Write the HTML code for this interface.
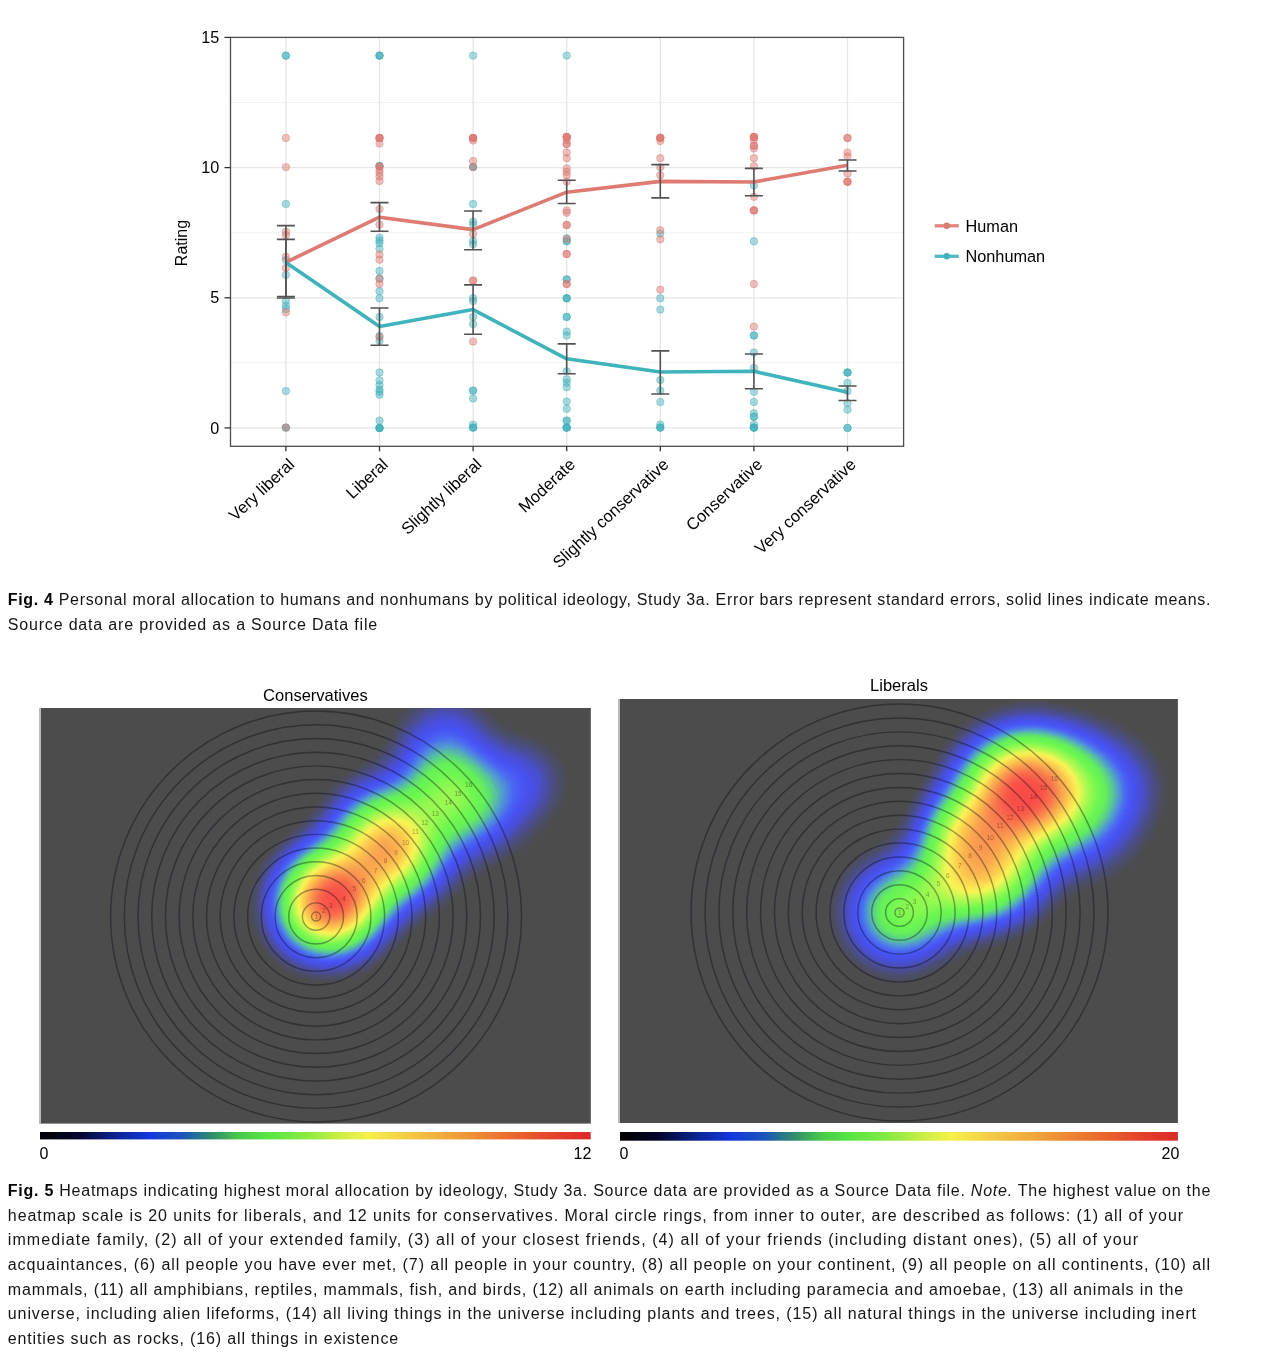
<!DOCTYPE html>
<html><head><meta charset="utf-8"><title>Figures</title>
<style>
html,body{margin:0;padding:0;background:#fff}
body{width:1278px;height:1368px;position:relative;overflow:hidden;font-family:"Liberation Sans",sans-serif;color:#111}
.cl{position:absolute;left:7.8px;font-size:16px;line-height:20px;white-space:nowrap;color:#141414}
.cl b{color:#000}
.t{position:absolute;font-size:16.5px;line-height:20px;color:#000;white-space:nowrap;transform:translateX(-50%)}
.n{position:absolute;font-size:16px;line-height:20px;color:#000}
.strip{position:absolute;background:#b9b9b9}
</style></head><body>
<svg id="chart" width="1278" height="580" viewBox="0 0 1278 580" style="position:absolute;left:0;top:0" font-family="Liberation Sans, sans-serif">
<g stroke="#f1f1f1" stroke-width="1.1">
<line x1="230.5" x2="903.6" y1="362.8" y2="362.8"/>
<line x1="230.5" x2="903.6" y1="232.7" y2="232.7"/>
<line x1="230.5" x2="903.6" y1="102.5" y2="102.5"/>
</g><g stroke="#e6e6e6" stroke-width="1.3">
<line x1="230.5" x2="903.6" y1="427.9" y2="427.9"/>
<line x1="230.5" x2="903.6" y1="297.8" y2="297.8"/>
<line x1="230.5" x2="903.6" y1="167.6" y2="167.6"/>
<line x1="285.9" x2="285.9" y1="37.4" y2="446.3"/>
<line x1="379.5" x2="379.5" y1="37.4" y2="446.3"/>
<line x1="473.1" x2="473.1" y1="37.4" y2="446.3"/>
<line x1="566.7" x2="566.7" y1="37.4" y2="446.3"/>
<line x1="660.3" x2="660.3" y1="37.4" y2="446.3"/>
<line x1="753.9" x2="753.9" y1="37.4" y2="446.3"/>
<line x1="847.5" x2="847.5" y1="37.4" y2="446.3"/>
</g>
<g stroke-width="0.8">
<circle cx="285.9" cy="55.6" r="3.7" fill="#3fb2bb" fill-opacity="0.45" stroke="#3fb2bb" stroke-opacity="0.6"/>
<circle cx="285.9" cy="55.6" r="3.7" fill="#3fb2bb" fill-opacity="0.45" stroke="#3fb2bb" stroke-opacity="0.6"/>
<circle cx="285.9" cy="203.9" r="3.7" fill="#3fb2bb" fill-opacity="0.45" stroke="#3fb2bb" stroke-opacity="0.6"/>
<circle cx="285.9" cy="260.0" r="3.7" fill="#3fb2bb" fill-opacity="0.45" stroke="#3fb2bb" stroke-opacity="0.6"/>
<circle cx="285.9" cy="275.0" r="3.7" fill="#3fb2bb" fill-opacity="0.45" stroke="#3fb2bb" stroke-opacity="0.6"/>
<circle cx="285.9" cy="301.0" r="3.7" fill="#3fb2bb" fill-opacity="0.45" stroke="#3fb2bb" stroke-opacity="0.6"/>
<circle cx="285.9" cy="305.5" r="3.7" fill="#3fb2bb" fill-opacity="0.45" stroke="#3fb2bb" stroke-opacity="0.6"/>
<circle cx="285.9" cy="309.0" r="3.7" fill="#3fb2bb" fill-opacity="0.45" stroke="#3fb2bb" stroke-opacity="0.6"/>
<circle cx="285.9" cy="391.0" r="3.7" fill="#3fb2bb" fill-opacity="0.45" stroke="#3fb2bb" stroke-opacity="0.6"/>
<circle cx="285.9" cy="427.6" r="3.7" fill="#3fb2bb" fill-opacity="0.45" stroke="#3fb2bb" stroke-opacity="0.6"/>
<circle cx="285.9" cy="427.6" r="3.7" fill="#3fb2bb" fill-opacity="0.45" stroke="#3fb2bb" stroke-opacity="0.6"/>
<circle cx="285.9" cy="138.0" r="3.7" fill="#e0766f" fill-opacity="0.45" stroke="#e0766f" stroke-opacity="0.6"/>
<circle cx="285.9" cy="167.1" r="3.7" fill="#e0766f" fill-opacity="0.45" stroke="#e0766f" stroke-opacity="0.6"/>
<circle cx="285.9" cy="231.8" r="3.7" fill="#e0766f" fill-opacity="0.45" stroke="#e0766f" stroke-opacity="0.6"/>
<circle cx="285.9" cy="235.0" r="3.7" fill="#e0766f" fill-opacity="0.45" stroke="#e0766f" stroke-opacity="0.6"/>
<circle cx="285.9" cy="256.7" r="3.7" fill="#e0766f" fill-opacity="0.45" stroke="#e0766f" stroke-opacity="0.6"/>
<circle cx="285.9" cy="268.0" r="3.7" fill="#e0766f" fill-opacity="0.45" stroke="#e0766f" stroke-opacity="0.6"/>
<circle cx="285.9" cy="312.3" r="3.7" fill="#e0766f" fill-opacity="0.45" stroke="#e0766f" stroke-opacity="0.6"/>
<circle cx="285.9" cy="427.6" r="3.7" fill="#e0766f" fill-opacity="0.45" stroke="#e0766f" stroke-opacity="0.6"/>
<circle cx="379.5" cy="55.6" r="3.7" fill="#3fb2bb" fill-opacity="0.45" stroke="#3fb2bb" stroke-opacity="0.6"/>
<circle cx="379.5" cy="55.6" r="3.7" fill="#3fb2bb" fill-opacity="0.45" stroke="#3fb2bb" stroke-opacity="0.6"/>
<circle cx="379.5" cy="55.6" r="3.7" fill="#3fb2bb" fill-opacity="0.45" stroke="#3fb2bb" stroke-opacity="0.6"/>
<circle cx="379.5" cy="166.0" r="3.7" fill="#3fb2bb" fill-opacity="0.45" stroke="#3fb2bb" stroke-opacity="0.6"/>
<circle cx="379.5" cy="166.0" r="3.7" fill="#3fb2bb" fill-opacity="0.45" stroke="#3fb2bb" stroke-opacity="0.6"/>
<circle cx="379.5" cy="237.6" r="3.7" fill="#3fb2bb" fill-opacity="0.45" stroke="#3fb2bb" stroke-opacity="0.6"/>
<circle cx="379.5" cy="240.4" r="3.7" fill="#3fb2bb" fill-opacity="0.45" stroke="#3fb2bb" stroke-opacity="0.6"/>
<circle cx="379.5" cy="243.0" r="3.7" fill="#3fb2bb" fill-opacity="0.45" stroke="#3fb2bb" stroke-opacity="0.6"/>
<circle cx="379.5" cy="248.8" r="3.7" fill="#3fb2bb" fill-opacity="0.45" stroke="#3fb2bb" stroke-opacity="0.6"/>
<circle cx="379.5" cy="271.0" r="3.7" fill="#3fb2bb" fill-opacity="0.45" stroke="#3fb2bb" stroke-opacity="0.6"/>
<circle cx="379.5" cy="278.3" r="3.7" fill="#3fb2bb" fill-opacity="0.45" stroke="#3fb2bb" stroke-opacity="0.6"/>
<circle cx="379.5" cy="291.2" r="3.7" fill="#3fb2bb" fill-opacity="0.45" stroke="#3fb2bb" stroke-opacity="0.6"/>
<circle cx="379.5" cy="298.3" r="3.7" fill="#3fb2bb" fill-opacity="0.45" stroke="#3fb2bb" stroke-opacity="0.6"/>
<circle cx="379.5" cy="316.9" r="3.7" fill="#3fb2bb" fill-opacity="0.45" stroke="#3fb2bb" stroke-opacity="0.6"/>
<circle cx="379.5" cy="336.0" r="3.7" fill="#3fb2bb" fill-opacity="0.45" stroke="#3fb2bb" stroke-opacity="0.6"/>
<circle cx="379.5" cy="340.7" r="3.7" fill="#3fb2bb" fill-opacity="0.45" stroke="#3fb2bb" stroke-opacity="0.6"/>
<circle cx="379.5" cy="372.5" r="3.7" fill="#3fb2bb" fill-opacity="0.45" stroke="#3fb2bb" stroke-opacity="0.6"/>
<circle cx="379.5" cy="380.4" r="3.7" fill="#3fb2bb" fill-opacity="0.45" stroke="#3fb2bb" stroke-opacity="0.6"/>
<circle cx="379.5" cy="385.0" r="3.7" fill="#3fb2bb" fill-opacity="0.45" stroke="#3fb2bb" stroke-opacity="0.6"/>
<circle cx="379.5" cy="389.5" r="3.7" fill="#3fb2bb" fill-opacity="0.45" stroke="#3fb2bb" stroke-opacity="0.6"/>
<circle cx="379.5" cy="391.8" r="3.7" fill="#3fb2bb" fill-opacity="0.45" stroke="#3fb2bb" stroke-opacity="0.6"/>
<circle cx="379.5" cy="394.7" r="3.7" fill="#3fb2bb" fill-opacity="0.45" stroke="#3fb2bb" stroke-opacity="0.6"/>
<circle cx="379.5" cy="420.6" r="3.7" fill="#3fb2bb" fill-opacity="0.45" stroke="#3fb2bb" stroke-opacity="0.6"/>
<circle cx="379.5" cy="428.0" r="3.7" fill="#3fb2bb" fill-opacity="0.45" stroke="#3fb2bb" stroke-opacity="0.6"/>
<circle cx="379.5" cy="428.0" r="3.7" fill="#3fb2bb" fill-opacity="0.45" stroke="#3fb2bb" stroke-opacity="0.6"/>
<circle cx="379.5" cy="428.0" r="3.7" fill="#3fb2bb" fill-opacity="0.45" stroke="#3fb2bb" stroke-opacity="0.6"/>
<circle cx="379.5" cy="428.0" r="3.7" fill="#3fb2bb" fill-opacity="0.45" stroke="#3fb2bb" stroke-opacity="0.6"/>
<circle cx="379.5" cy="138.0" r="3.7" fill="#e0766f" fill-opacity="0.45" stroke="#e0766f" stroke-opacity="0.6"/>
<circle cx="379.5" cy="138.0" r="3.7" fill="#e0766f" fill-opacity="0.45" stroke="#e0766f" stroke-opacity="0.6"/>
<circle cx="379.5" cy="138.0" r="3.7" fill="#e0766f" fill-opacity="0.45" stroke="#e0766f" stroke-opacity="0.6"/>
<circle cx="379.5" cy="138.0" r="3.7" fill="#e0766f" fill-opacity="0.45" stroke="#e0766f" stroke-opacity="0.6"/>
<circle cx="379.5" cy="143.5" r="3.7" fill="#e0766f" fill-opacity="0.45" stroke="#e0766f" stroke-opacity="0.6"/>
<circle cx="379.5" cy="166.5" r="3.7" fill="#e0766f" fill-opacity="0.45" stroke="#e0766f" stroke-opacity="0.6"/>
<circle cx="379.5" cy="166.5" r="3.7" fill="#e0766f" fill-opacity="0.45" stroke="#e0766f" stroke-opacity="0.6"/>
<circle cx="379.5" cy="170.0" r="3.7" fill="#e0766f" fill-opacity="0.45" stroke="#e0766f" stroke-opacity="0.6"/>
<circle cx="379.5" cy="173.0" r="3.7" fill="#e0766f" fill-opacity="0.45" stroke="#e0766f" stroke-opacity="0.6"/>
<circle cx="379.5" cy="176.4" r="3.7" fill="#e0766f" fill-opacity="0.45" stroke="#e0766f" stroke-opacity="0.6"/>
<circle cx="379.5" cy="181.0" r="3.7" fill="#e0766f" fill-opacity="0.45" stroke="#e0766f" stroke-opacity="0.6"/>
<circle cx="379.5" cy="209.0" r="3.7" fill="#e0766f" fill-opacity="0.45" stroke="#e0766f" stroke-opacity="0.6"/>
<circle cx="379.5" cy="224.5" r="3.7" fill="#e0766f" fill-opacity="0.45" stroke="#e0766f" stroke-opacity="0.6"/>
<circle cx="379.5" cy="254.5" r="3.7" fill="#e0766f" fill-opacity="0.45" stroke="#e0766f" stroke-opacity="0.6"/>
<circle cx="379.5" cy="259.7" r="3.7" fill="#e0766f" fill-opacity="0.45" stroke="#e0766f" stroke-opacity="0.6"/>
<circle cx="379.5" cy="278.8" r="3.7" fill="#e0766f" fill-opacity="0.45" stroke="#e0766f" stroke-opacity="0.6"/>
<circle cx="379.5" cy="284.0" r="3.7" fill="#e0766f" fill-opacity="0.45" stroke="#e0766f" stroke-opacity="0.6"/>
<circle cx="379.5" cy="337.0" r="3.7" fill="#e0766f" fill-opacity="0.45" stroke="#e0766f" stroke-opacity="0.6"/>
<circle cx="473.1" cy="55.6" r="3.7" fill="#3fb2bb" fill-opacity="0.45" stroke="#3fb2bb" stroke-opacity="0.6"/>
<circle cx="473.1" cy="167.0" r="3.7" fill="#3fb2bb" fill-opacity="0.45" stroke="#3fb2bb" stroke-opacity="0.6"/>
<circle cx="473.1" cy="167.0" r="3.7" fill="#3fb2bb" fill-opacity="0.45" stroke="#3fb2bb" stroke-opacity="0.6"/>
<circle cx="473.1" cy="203.9" r="3.7" fill="#3fb2bb" fill-opacity="0.45" stroke="#3fb2bb" stroke-opacity="0.6"/>
<circle cx="473.1" cy="221.6" r="3.7" fill="#3fb2bb" fill-opacity="0.45" stroke="#3fb2bb" stroke-opacity="0.6"/>
<circle cx="473.1" cy="224.5" r="3.7" fill="#3fb2bb" fill-opacity="0.45" stroke="#3fb2bb" stroke-opacity="0.6"/>
<circle cx="473.1" cy="240.8" r="3.7" fill="#3fb2bb" fill-opacity="0.45" stroke="#3fb2bb" stroke-opacity="0.6"/>
<circle cx="473.1" cy="244.2" r="3.7" fill="#3fb2bb" fill-opacity="0.45" stroke="#3fb2bb" stroke-opacity="0.6"/>
<circle cx="473.1" cy="298.0" r="3.7" fill="#3fb2bb" fill-opacity="0.45" stroke="#3fb2bb" stroke-opacity="0.6"/>
<circle cx="473.1" cy="301.0" r="3.7" fill="#3fb2bb" fill-opacity="0.45" stroke="#3fb2bb" stroke-opacity="0.6"/>
<circle cx="473.1" cy="316.9" r="3.7" fill="#3fb2bb" fill-opacity="0.45" stroke="#3fb2bb" stroke-opacity="0.6"/>
<circle cx="473.1" cy="324.0" r="3.7" fill="#3fb2bb" fill-opacity="0.45" stroke="#3fb2bb" stroke-opacity="0.6"/>
<circle cx="473.1" cy="390.6" r="3.7" fill="#3fb2bb" fill-opacity="0.45" stroke="#3fb2bb" stroke-opacity="0.6"/>
<circle cx="473.1" cy="390.6" r="3.7" fill="#3fb2bb" fill-opacity="0.45" stroke="#3fb2bb" stroke-opacity="0.6"/>
<circle cx="473.1" cy="398.5" r="3.7" fill="#3fb2bb" fill-opacity="0.45" stroke="#3fb2bb" stroke-opacity="0.6"/>
<circle cx="473.1" cy="424.6" r="3.7" fill="#3fb2bb" fill-opacity="0.45" stroke="#3fb2bb" stroke-opacity="0.6"/>
<circle cx="473.1" cy="427.6" r="3.7" fill="#3fb2bb" fill-opacity="0.45" stroke="#3fb2bb" stroke-opacity="0.6"/>
<circle cx="473.1" cy="427.6" r="3.7" fill="#3fb2bb" fill-opacity="0.45" stroke="#3fb2bb" stroke-opacity="0.6"/>
<circle cx="473.1" cy="427.6" r="3.7" fill="#3fb2bb" fill-opacity="0.45" stroke="#3fb2bb" stroke-opacity="0.6"/>
<circle cx="473.1" cy="138.0" r="3.7" fill="#e0766f" fill-opacity="0.45" stroke="#e0766f" stroke-opacity="0.6"/>
<circle cx="473.1" cy="138.0" r="3.7" fill="#e0766f" fill-opacity="0.45" stroke="#e0766f" stroke-opacity="0.6"/>
<circle cx="473.1" cy="138.0" r="3.7" fill="#e0766f" fill-opacity="0.45" stroke="#e0766f" stroke-opacity="0.6"/>
<circle cx="473.1" cy="138.0" r="3.7" fill="#e0766f" fill-opacity="0.45" stroke="#e0766f" stroke-opacity="0.6"/>
<circle cx="473.1" cy="140.5" r="3.7" fill="#e0766f" fill-opacity="0.45" stroke="#e0766f" stroke-opacity="0.6"/>
<circle cx="473.1" cy="161.0" r="3.7" fill="#e0766f" fill-opacity="0.45" stroke="#e0766f" stroke-opacity="0.6"/>
<circle cx="473.1" cy="167.0" r="3.7" fill="#e0766f" fill-opacity="0.45" stroke="#e0766f" stroke-opacity="0.6"/>
<circle cx="473.1" cy="234.0" r="3.7" fill="#e0766f" fill-opacity="0.45" stroke="#e0766f" stroke-opacity="0.6"/>
<circle cx="473.1" cy="280.6" r="3.7" fill="#e0766f" fill-opacity="0.45" stroke="#e0766f" stroke-opacity="0.6"/>
<circle cx="473.1" cy="280.6" r="3.7" fill="#e0766f" fill-opacity="0.45" stroke="#e0766f" stroke-opacity="0.6"/>
<circle cx="473.1" cy="341.6" r="3.7" fill="#e0766f" fill-opacity="0.45" stroke="#e0766f" stroke-opacity="0.6"/>
<circle cx="566.7" cy="55.6" r="3.7" fill="#3fb2bb" fill-opacity="0.45" stroke="#3fb2bb" stroke-opacity="0.6"/>
<circle cx="566.7" cy="238.3" r="3.7" fill="#3fb2bb" fill-opacity="0.45" stroke="#3fb2bb" stroke-opacity="0.6"/>
<circle cx="566.7" cy="241.3" r="3.7" fill="#3fb2bb" fill-opacity="0.45" stroke="#3fb2bb" stroke-opacity="0.6"/>
<circle cx="566.7" cy="241.3" r="3.7" fill="#3fb2bb" fill-opacity="0.45" stroke="#3fb2bb" stroke-opacity="0.6"/>
<circle cx="566.7" cy="279.4" r="3.7" fill="#3fb2bb" fill-opacity="0.45" stroke="#3fb2bb" stroke-opacity="0.6"/>
<circle cx="566.7" cy="279.4" r="3.7" fill="#3fb2bb" fill-opacity="0.45" stroke="#3fb2bb" stroke-opacity="0.6"/>
<circle cx="566.7" cy="298.3" r="3.7" fill="#3fb2bb" fill-opacity="0.45" stroke="#3fb2bb" stroke-opacity="0.6"/>
<circle cx="566.7" cy="298.3" r="3.7" fill="#3fb2bb" fill-opacity="0.45" stroke="#3fb2bb" stroke-opacity="0.6"/>
<circle cx="566.7" cy="298.3" r="3.7" fill="#3fb2bb" fill-opacity="0.45" stroke="#3fb2bb" stroke-opacity="0.6"/>
<circle cx="566.7" cy="316.9" r="3.7" fill="#3fb2bb" fill-opacity="0.45" stroke="#3fb2bb" stroke-opacity="0.6"/>
<circle cx="566.7" cy="316.9" r="3.7" fill="#3fb2bb" fill-opacity="0.45" stroke="#3fb2bb" stroke-opacity="0.6"/>
<circle cx="566.7" cy="331.6" r="3.7" fill="#3fb2bb" fill-opacity="0.45" stroke="#3fb2bb" stroke-opacity="0.6"/>
<circle cx="566.7" cy="335.5" r="3.7" fill="#3fb2bb" fill-opacity="0.45" stroke="#3fb2bb" stroke-opacity="0.6"/>
<circle cx="566.7" cy="371.3" r="3.7" fill="#3fb2bb" fill-opacity="0.45" stroke="#3fb2bb" stroke-opacity="0.6"/>
<circle cx="566.7" cy="379.3" r="3.7" fill="#3fb2bb" fill-opacity="0.45" stroke="#3fb2bb" stroke-opacity="0.6"/>
<circle cx="566.7" cy="382.7" r="3.7" fill="#3fb2bb" fill-opacity="0.45" stroke="#3fb2bb" stroke-opacity="0.6"/>
<circle cx="566.7" cy="387.2" r="3.7" fill="#3fb2bb" fill-opacity="0.45" stroke="#3fb2bb" stroke-opacity="0.6"/>
<circle cx="566.7" cy="401.5" r="3.7" fill="#3fb2bb" fill-opacity="0.45" stroke="#3fb2bb" stroke-opacity="0.6"/>
<circle cx="566.7" cy="408.8" r="3.7" fill="#3fb2bb" fill-opacity="0.45" stroke="#3fb2bb" stroke-opacity="0.6"/>
<circle cx="566.7" cy="420.6" r="3.7" fill="#3fb2bb" fill-opacity="0.45" stroke="#3fb2bb" stroke-opacity="0.6"/>
<circle cx="566.7" cy="420.6" r="3.7" fill="#3fb2bb" fill-opacity="0.45" stroke="#3fb2bb" stroke-opacity="0.6"/>
<circle cx="566.7" cy="427.6" r="3.7" fill="#3fb2bb" fill-opacity="0.45" stroke="#3fb2bb" stroke-opacity="0.6"/>
<circle cx="566.7" cy="427.6" r="3.7" fill="#3fb2bb" fill-opacity="0.45" stroke="#3fb2bb" stroke-opacity="0.6"/>
<circle cx="566.7" cy="427.6" r="3.7" fill="#3fb2bb" fill-opacity="0.45" stroke="#3fb2bb" stroke-opacity="0.6"/>
<circle cx="566.7" cy="427.6" r="3.7" fill="#3fb2bb" fill-opacity="0.45" stroke="#3fb2bb" stroke-opacity="0.6"/>
<circle cx="566.7" cy="137.0" r="3.7" fill="#e0766f" fill-opacity="0.45" stroke="#e0766f" stroke-opacity="0.6"/>
<circle cx="566.7" cy="137.0" r="3.7" fill="#e0766f" fill-opacity="0.45" stroke="#e0766f" stroke-opacity="0.6"/>
<circle cx="566.7" cy="137.0" r="3.7" fill="#e0766f" fill-opacity="0.45" stroke="#e0766f" stroke-opacity="0.6"/>
<circle cx="566.7" cy="137.0" r="3.7" fill="#e0766f" fill-opacity="0.45" stroke="#e0766f" stroke-opacity="0.6"/>
<circle cx="566.7" cy="140.0" r="3.7" fill="#e0766f" fill-opacity="0.45" stroke="#e0766f" stroke-opacity="0.6"/>
<circle cx="566.7" cy="144.0" r="3.7" fill="#e0766f" fill-opacity="0.45" stroke="#e0766f" stroke-opacity="0.6"/>
<circle cx="566.7" cy="144.0" r="3.7" fill="#e0766f" fill-opacity="0.45" stroke="#e0766f" stroke-opacity="0.6"/>
<circle cx="566.7" cy="152.5" r="3.7" fill="#e0766f" fill-opacity="0.45" stroke="#e0766f" stroke-opacity="0.6"/>
<circle cx="566.7" cy="158.2" r="3.7" fill="#e0766f" fill-opacity="0.45" stroke="#e0766f" stroke-opacity="0.6"/>
<circle cx="566.7" cy="168.4" r="3.7" fill="#e0766f" fill-opacity="0.45" stroke="#e0766f" stroke-opacity="0.6"/>
<circle cx="566.7" cy="171.8" r="3.7" fill="#e0766f" fill-opacity="0.45" stroke="#e0766f" stroke-opacity="0.6"/>
<circle cx="566.7" cy="175.2" r="3.7" fill="#e0766f" fill-opacity="0.45" stroke="#e0766f" stroke-opacity="0.6"/>
<circle cx="566.7" cy="181.6" r="3.7" fill="#e0766f" fill-opacity="0.45" stroke="#e0766f" stroke-opacity="0.6"/>
<circle cx="566.7" cy="210.4" r="3.7" fill="#e0766f" fill-opacity="0.45" stroke="#e0766f" stroke-opacity="0.6"/>
<circle cx="566.7" cy="212.7" r="3.7" fill="#e0766f" fill-opacity="0.45" stroke="#e0766f" stroke-opacity="0.6"/>
<circle cx="566.7" cy="225.0" r="3.7" fill="#e0766f" fill-opacity="0.45" stroke="#e0766f" stroke-opacity="0.6"/>
<circle cx="566.7" cy="225.0" r="3.7" fill="#e0766f" fill-opacity="0.45" stroke="#e0766f" stroke-opacity="0.6"/>
<circle cx="566.7" cy="239.0" r="3.7" fill="#e0766f" fill-opacity="0.45" stroke="#e0766f" stroke-opacity="0.6"/>
<circle cx="566.7" cy="254.0" r="3.7" fill="#e0766f" fill-opacity="0.45" stroke="#e0766f" stroke-opacity="0.6"/>
<circle cx="566.7" cy="254.0" r="3.7" fill="#e0766f" fill-opacity="0.45" stroke="#e0766f" stroke-opacity="0.6"/>
<circle cx="566.7" cy="284.0" r="3.7" fill="#e0766f" fill-opacity="0.45" stroke="#e0766f" stroke-opacity="0.6"/>
<circle cx="566.7" cy="284.0" r="3.7" fill="#e0766f" fill-opacity="0.45" stroke="#e0766f" stroke-opacity="0.6"/>
<circle cx="660.3" cy="233.6" r="3.7" fill="#3fb2bb" fill-opacity="0.45" stroke="#3fb2bb" stroke-opacity="0.6"/>
<circle cx="660.3" cy="298.3" r="3.7" fill="#3fb2bb" fill-opacity="0.45" stroke="#3fb2bb" stroke-opacity="0.6"/>
<circle cx="660.3" cy="309.6" r="3.7" fill="#3fb2bb" fill-opacity="0.45" stroke="#3fb2bb" stroke-opacity="0.6"/>
<circle cx="660.3" cy="380.0" r="3.7" fill="#3fb2bb" fill-opacity="0.45" stroke="#3fb2bb" stroke-opacity="0.6"/>
<circle cx="660.3" cy="390.6" r="3.7" fill="#3fb2bb" fill-opacity="0.45" stroke="#3fb2bb" stroke-opacity="0.6"/>
<circle cx="660.3" cy="402.0" r="3.7" fill="#3fb2bb" fill-opacity="0.45" stroke="#3fb2bb" stroke-opacity="0.6"/>
<circle cx="660.3" cy="424.6" r="3.7" fill="#3fb2bb" fill-opacity="0.45" stroke="#3fb2bb" stroke-opacity="0.6"/>
<circle cx="660.3" cy="427.6" r="3.7" fill="#3fb2bb" fill-opacity="0.45" stroke="#3fb2bb" stroke-opacity="0.6"/>
<circle cx="660.3" cy="427.6" r="3.7" fill="#3fb2bb" fill-opacity="0.45" stroke="#3fb2bb" stroke-opacity="0.6"/>
<circle cx="660.3" cy="427.6" r="3.7" fill="#3fb2bb" fill-opacity="0.45" stroke="#3fb2bb" stroke-opacity="0.6"/>
<circle cx="660.3" cy="137.8" r="3.7" fill="#e0766f" fill-opacity="0.45" stroke="#e0766f" stroke-opacity="0.6"/>
<circle cx="660.3" cy="137.8" r="3.7" fill="#e0766f" fill-opacity="0.45" stroke="#e0766f" stroke-opacity="0.6"/>
<circle cx="660.3" cy="137.8" r="3.7" fill="#e0766f" fill-opacity="0.45" stroke="#e0766f" stroke-opacity="0.6"/>
<circle cx="660.3" cy="137.8" r="3.7" fill="#e0766f" fill-opacity="0.45" stroke="#e0766f" stroke-opacity="0.6"/>
<circle cx="660.3" cy="141.0" r="3.7" fill="#e0766f" fill-opacity="0.45" stroke="#e0766f" stroke-opacity="0.6"/>
<circle cx="660.3" cy="158.2" r="3.7" fill="#e0766f" fill-opacity="0.45" stroke="#e0766f" stroke-opacity="0.6"/>
<circle cx="660.3" cy="167.3" r="3.7" fill="#e0766f" fill-opacity="0.45" stroke="#e0766f" stroke-opacity="0.6"/>
<circle cx="660.3" cy="175.2" r="3.7" fill="#e0766f" fill-opacity="0.45" stroke="#e0766f" stroke-opacity="0.6"/>
<circle cx="660.3" cy="230.2" r="3.7" fill="#e0766f" fill-opacity="0.45" stroke="#e0766f" stroke-opacity="0.6"/>
<circle cx="660.3" cy="239.3" r="3.7" fill="#e0766f" fill-opacity="0.45" stroke="#e0766f" stroke-opacity="0.6"/>
<circle cx="660.3" cy="289.6" r="3.7" fill="#e0766f" fill-opacity="0.45" stroke="#e0766f" stroke-opacity="0.6"/>
<circle cx="753.9" cy="185.4" r="3.7" fill="#3fb2bb" fill-opacity="0.45" stroke="#3fb2bb" stroke-opacity="0.6"/>
<circle cx="753.9" cy="241.3" r="3.7" fill="#3fb2bb" fill-opacity="0.45" stroke="#3fb2bb" stroke-opacity="0.6"/>
<circle cx="753.9" cy="335.5" r="3.7" fill="#3fb2bb" fill-opacity="0.45" stroke="#3fb2bb" stroke-opacity="0.6"/>
<circle cx="753.9" cy="335.5" r="3.7" fill="#3fb2bb" fill-opacity="0.45" stroke="#3fb2bb" stroke-opacity="0.6"/>
<circle cx="753.9" cy="352.5" r="3.7" fill="#3fb2bb" fill-opacity="0.45" stroke="#3fb2bb" stroke-opacity="0.6"/>
<circle cx="753.9" cy="367.9" r="3.7" fill="#3fb2bb" fill-opacity="0.45" stroke="#3fb2bb" stroke-opacity="0.6"/>
<circle cx="753.9" cy="391.7" r="3.7" fill="#3fb2bb" fill-opacity="0.45" stroke="#3fb2bb" stroke-opacity="0.6"/>
<circle cx="753.9" cy="402.0" r="3.7" fill="#3fb2bb" fill-opacity="0.45" stroke="#3fb2bb" stroke-opacity="0.6"/>
<circle cx="753.9" cy="413.3" r="3.7" fill="#3fb2bb" fill-opacity="0.45" stroke="#3fb2bb" stroke-opacity="0.6"/>
<circle cx="753.9" cy="416.7" r="3.7" fill="#3fb2bb" fill-opacity="0.45" stroke="#3fb2bb" stroke-opacity="0.6"/>
<circle cx="753.9" cy="416.7" r="3.7" fill="#3fb2bb" fill-opacity="0.45" stroke="#3fb2bb" stroke-opacity="0.6"/>
<circle cx="753.9" cy="424.6" r="3.7" fill="#3fb2bb" fill-opacity="0.45" stroke="#3fb2bb" stroke-opacity="0.6"/>
<circle cx="753.9" cy="427.6" r="3.7" fill="#3fb2bb" fill-opacity="0.45" stroke="#3fb2bb" stroke-opacity="0.6"/>
<circle cx="753.9" cy="427.6" r="3.7" fill="#3fb2bb" fill-opacity="0.45" stroke="#3fb2bb" stroke-opacity="0.6"/>
<circle cx="753.9" cy="427.6" r="3.7" fill="#3fb2bb" fill-opacity="0.45" stroke="#3fb2bb" stroke-opacity="0.6"/>
<circle cx="753.9" cy="427.6" r="3.7" fill="#3fb2bb" fill-opacity="0.45" stroke="#3fb2bb" stroke-opacity="0.6"/>
<circle cx="753.9" cy="137.0" r="3.7" fill="#e0766f" fill-opacity="0.45" stroke="#e0766f" stroke-opacity="0.6"/>
<circle cx="753.9" cy="137.0" r="3.7" fill="#e0766f" fill-opacity="0.45" stroke="#e0766f" stroke-opacity="0.6"/>
<circle cx="753.9" cy="137.0" r="3.7" fill="#e0766f" fill-opacity="0.45" stroke="#e0766f" stroke-opacity="0.6"/>
<circle cx="753.9" cy="137.0" r="3.7" fill="#e0766f" fill-opacity="0.45" stroke="#e0766f" stroke-opacity="0.6"/>
<circle cx="753.9" cy="140.0" r="3.7" fill="#e0766f" fill-opacity="0.45" stroke="#e0766f" stroke-opacity="0.6"/>
<circle cx="753.9" cy="145.7" r="3.7" fill="#e0766f" fill-opacity="0.45" stroke="#e0766f" stroke-opacity="0.6"/>
<circle cx="753.9" cy="145.7" r="3.7" fill="#e0766f" fill-opacity="0.45" stroke="#e0766f" stroke-opacity="0.6"/>
<circle cx="753.9" cy="148.5" r="3.7" fill="#e0766f" fill-opacity="0.45" stroke="#e0766f" stroke-opacity="0.6"/>
<circle cx="753.9" cy="158.2" r="3.7" fill="#e0766f" fill-opacity="0.45" stroke="#e0766f" stroke-opacity="0.6"/>
<circle cx="753.9" cy="166.2" r="3.7" fill="#e0766f" fill-opacity="0.45" stroke="#e0766f" stroke-opacity="0.6"/>
<circle cx="753.9" cy="196.8" r="3.7" fill="#e0766f" fill-opacity="0.45" stroke="#e0766f" stroke-opacity="0.6"/>
<circle cx="753.9" cy="210.4" r="3.7" fill="#e0766f" fill-opacity="0.45" stroke="#e0766f" stroke-opacity="0.6"/>
<circle cx="753.9" cy="210.4" r="3.7" fill="#e0766f" fill-opacity="0.45" stroke="#e0766f" stroke-opacity="0.6"/>
<circle cx="753.9" cy="210.4" r="3.7" fill="#e0766f" fill-opacity="0.45" stroke="#e0766f" stroke-opacity="0.6"/>
<circle cx="753.9" cy="284.0" r="3.7" fill="#e0766f" fill-opacity="0.45" stroke="#e0766f" stroke-opacity="0.6"/>
<circle cx="753.9" cy="326.6" r="3.7" fill="#e0766f" fill-opacity="0.45" stroke="#e0766f" stroke-opacity="0.6"/>
<circle cx="847.5" cy="372.5" r="3.7" fill="#3fb2bb" fill-opacity="0.45" stroke="#3fb2bb" stroke-opacity="0.6"/>
<circle cx="847.5" cy="372.5" r="3.7" fill="#3fb2bb" fill-opacity="0.45" stroke="#3fb2bb" stroke-opacity="0.6"/>
<circle cx="847.5" cy="372.5" r="3.7" fill="#3fb2bb" fill-opacity="0.45" stroke="#3fb2bb" stroke-opacity="0.6"/>
<circle cx="847.5" cy="382.9" r="3.7" fill="#3fb2bb" fill-opacity="0.45" stroke="#3fb2bb" stroke-opacity="0.6"/>
<circle cx="847.5" cy="391.0" r="3.7" fill="#3fb2bb" fill-opacity="0.45" stroke="#3fb2bb" stroke-opacity="0.6"/>
<circle cx="847.5" cy="403.2" r="3.7" fill="#3fb2bb" fill-opacity="0.45" stroke="#3fb2bb" stroke-opacity="0.6"/>
<circle cx="847.5" cy="409.6" r="3.7" fill="#3fb2bb" fill-opacity="0.45" stroke="#3fb2bb" stroke-opacity="0.6"/>
<circle cx="847.5" cy="427.9" r="3.7" fill="#3fb2bb" fill-opacity="0.45" stroke="#3fb2bb" stroke-opacity="0.6"/>
<circle cx="847.5" cy="427.9" r="3.7" fill="#3fb2bb" fill-opacity="0.45" stroke="#3fb2bb" stroke-opacity="0.6"/>
<circle cx="847.5" cy="138.0" r="3.7" fill="#e0766f" fill-opacity="0.45" stroke="#e0766f" stroke-opacity="0.6"/>
<circle cx="847.5" cy="138.0" r="3.7" fill="#e0766f" fill-opacity="0.45" stroke="#e0766f" stroke-opacity="0.6"/>
<circle cx="847.5" cy="152.6" r="3.7" fill="#e0766f" fill-opacity="0.45" stroke="#e0766f" stroke-opacity="0.6"/>
<circle cx="847.5" cy="156.5" r="3.7" fill="#e0766f" fill-opacity="0.45" stroke="#e0766f" stroke-opacity="0.6"/>
<circle cx="847.5" cy="173.5" r="3.7" fill="#e0766f" fill-opacity="0.45" stroke="#e0766f" stroke-opacity="0.6"/>
<circle cx="847.5" cy="181.7" r="3.7" fill="#e0766f" fill-opacity="0.45" stroke="#e0766f" stroke-opacity="0.6"/>
<circle cx="847.5" cy="181.7" r="3.7" fill="#e0766f" fill-opacity="0.45" stroke="#e0766f" stroke-opacity="0.6"/>
<circle cx="847.5" cy="181.7" r="3.7" fill="#e0766f" fill-opacity="0.45" stroke="#e0766f" stroke-opacity="0.6"/>
</g>
<polyline points="285.9,262.3 379.5,217.2 473.1,229.6 566.7,192.2 660.3,181.4 753.9,182.0 847.5,165.2" fill="none" stroke="#de7a72" stroke-width="3.6" stroke-linejoin="round"/>
<polyline points="285.9,262.5 379.5,326.6 473.1,309.6 566.7,358.8 660.3,372.0 753.9,371.3 847.5,392.2" fill="none" stroke="#3db3bc" stroke-width="3.6" stroke-linejoin="round"/>
<g stroke="#525252" stroke-width="1.6" fill="none">
<path d="M276.9 225.6H294.9M276.9 296.5H294.9M285.9 225.6V296.5"/>
<path d="M370.5 202.6H388.5M370.5 231.2H388.5M379.5 202.6V231.2"/>
<path d="M464.1 211.0H482.1M464.1 249.7H482.1M473.1 211.0V249.7"/>
<path d="M557.7 180.2H575.7M557.7 203.5H575.7M566.7 180.2V203.5"/>
<path d="M651.3 164.6H669.3M651.3 197.9H669.3M660.3 164.6V197.9"/>
<path d="M744.9 168.4H762.9M744.9 195.7H762.9M753.9 168.4V195.7"/>
<path d="M838.5 160.0H856.5M838.5 171.0H856.5M847.5 160.0V171.0"/>
<path d="M276.9 239.4H294.9M276.9 298.0H294.9M285.9 239.4V298.0"/>
<path d="M370.5 308.0H388.5M370.5 345.2H388.5M379.5 308.0V345.2"/>
<path d="M464.1 284.9H482.1M464.1 334.3H482.1M473.1 284.9V334.3"/>
<path d="M557.7 343.9H575.7M557.7 373.8H575.7M566.7 343.9V373.8"/>
<path d="M651.3 350.9H669.3M651.3 394.0H669.3M660.3 350.9V394.0"/>
<path d="M744.9 354.0H762.9M744.9 388.8H762.9M753.9 354.0V388.8"/>
<path d="M838.5 386.0H856.5M838.5 400.5H856.5M847.5 386.0V400.5"/>
</g>
<rect x="230.5" y="37.4" width="673.1" height="408.9" fill="none" stroke="#4d4d4d" stroke-width="1.3"/>
<g stroke="#333" stroke-width="1.3">
<line x1="224.5" x2="230.5" y1="427.9" y2="427.9"/>
<line x1="224.5" x2="230.5" y1="297.8" y2="297.8"/>
<line x1="224.5" x2="230.5" y1="167.6" y2="167.6"/>
<line x1="224.5" x2="230.5" y1="37.4" y2="37.4"/>
<line x1="285.9" x2="285.9" y1="446.3" y2="451.3"/>
<line x1="379.5" x2="379.5" y1="446.3" y2="451.3"/>
<line x1="473.1" x2="473.1" y1="446.3" y2="451.3"/>
<line x1="566.7" x2="566.7" y1="446.3" y2="451.3"/>
<line x1="660.3" x2="660.3" y1="446.3" y2="451.3"/>
<line x1="753.9" x2="753.9" y1="446.3" y2="451.3"/>
<line x1="847.5" x2="847.5" y1="446.3" y2="451.3"/>
</g>
<g font-size="16.2" fill="#000" text-anchor="end">
<text x="219.3" y="433.5">0</text>
<text x="219.3" y="303.4">5</text>
<text x="219.3" y="173.2">10</text>
<text x="219.3" y="43.0">15</text>
</g>
<text font-size="16" fill="#000" text-anchor="middle" transform="translate(187,243) rotate(-90)">Rating</text>
<g font-size="16.6" fill="#000" text-anchor="end">
<text transform="translate(295.4,465.8) rotate(-43)">Very liberal</text>
<text transform="translate(389.0,465.8) rotate(-43)">Liberal</text>
<text transform="translate(482.6,465.8) rotate(-43)">Slightly liberal</text>
<text transform="translate(576.2,465.8) rotate(-43)">Moderate</text>
<text transform="translate(669.8,465.8) rotate(-43)">Slightly conservative</text>
<text transform="translate(763.4,465.8) rotate(-43)">Conservative</text>
<text transform="translate(857.0,465.8) rotate(-43)">Very conservative</text>
</g>
<line x1="934.7" x2="958.8" y1="225.8" y2="225.8" stroke="#de7a72" stroke-width="3.3" stroke-opacity="0.9"/><circle cx="946.7" cy="225.8" r="3.2" fill="#de7a72"/>
<text x="965.5" y="231.9" font-size="16.3" fill="#000">Human</text>
<line x1="934.7" x2="958.8" y1="256.3" y2="256.3" stroke="#3db3bc" stroke-width="3.3" stroke-opacity="0.9"/><circle cx="946.7" cy="256.3" r="3.2" fill="#3db3bc"/>
<text x="965.5" y="262.4" font-size="16.3" fill="#000">Nonhuman</text>
</svg>
<div class="cl" id="cap-a0" style="top:590.1px;letter-spacing:0.673px"><b>Fig. 4</b> Personal moral allocation to humans and nonhumans by political ideology, Study 3a. Error bars represent standard errors, solid lines indicate means.</div>
<div class="cl" id="cap-a1" style="top:614.8px;letter-spacing:0.817px">Source data are provided as a Source Data file</div>
<div class="t" style="left:315.4px;top:685.2px">Conservatives</div>
<div class="t" style="left:899px;top:674.5px">Liberals</div>
<div class="strip" style="left:39.2px;top:708px;width:2px;height:415.6px"></div>
<div class="strip" style="left:618.2px;top:698.8px;width:2px;height:424.5px"></div>
<svg width="549.8" height="415.6" viewBox="0 0 549.8 415.6" style="position:absolute;left:41.1px;top:708.0px" font-family="Liberation Sans, sans-serif">
<defs>
<filter id="af" x="0" y="0" width="100%" height="100%" filterUnits="userSpaceOnUse" color-interpolation-filters="sRGB"><feColorMatrix type="matrix" values="0 0 0 1 0 0 0 0 1 0 0 0 0 1 0 0 0 0 1 0"/><feComponentTransfer><feFuncR type="table" tableValues="0.282 0.282 0.282 0.282 0.282 0.282 0.282 0.282 0.282 0.282 0.282 0.282 0.282 0.282 0.282 0.285 0.288 0.292 0.3 0.308 0.317 0.328 0.34 0.353 0.367 0.382 0.396 0.407 0.418 0.43 0.47 0.518 0.567 0.618 0.67 0.734 0.806 0.88 0.957 0.983 0.986 0.989 0.991 0.988 0.985 0.982 0.98 0.98 0.98 0.98 0.98 0.98 0.98 0.98 0.98 0.98 0.98 0.98 0.98 0.98 0.98 0.98 0.98 0.98 0.98"/><feFuncG type="table" tableValues="0.314 0.314 0.314 0.314 0.314 0.314 0.314 0.314 0.314 0.314 0.314 0.314 0.316 0.319 0.321 0.346 0.372 0.407 0.473 0.54 0.609 0.679 0.751 0.81 0.859 0.908 0.944 0.953 0.962 0.971 0.974 0.975 0.977 0.978 0.98 0.977 0.972 0.967 0.962 0.93 0.886 0.839 0.791 0.739 0.685 0.627 0.568 0.505 0.438 0.383 0.327 0.3 0.298 0.298 0.298 0.298 0.298 0.298 0.298 0.298 0.298 0.298 0.298 0.298 0.298"/><feFuncB type="table" tableValues="0.98 0.98 0.98 0.98 0.98 0.98 0.98 0.98 0.98 0.98 0.98 0.98 0.98 0.98 0.98 0.974 0.966 0.952 0.913 0.872 0.816 0.725 0.631 0.549 0.476 0.402 0.349 0.338 0.327 0.316 0.314 0.314 0.314 0.314 0.314 0.317 0.322 0.327 0.332 0.328 0.32 0.312 0.306 0.308 0.311 0.313 0.31 0.305 0.299 0.293 0.288 0.283 0.282 0.282 0.282 0.282 0.282 0.282 0.282 0.282 0.282 0.282 0.282 0.282 0.282"/><feFuncA type="table" tableValues="0 0 0 0 0.043 0.127 0.215 0.324 0.435 0.547 0.662 0.779 0.847 0.906 0.967 0.98 0.991 1 1 1 1 1 1 1 1 1 1 1 1 1 1 1 1 1 1 1 1 1 1 1 1 1 1 1 1 1 1 1 1 1 1 1 1 1 1 1 1 1 1 1 1 1 1 1 1"/></feComponentTransfer></filter>
<radialGradient id="ag0"><stop offset="0.000" stop-color="#fff" stop-opacity="0.7631"/><stop offset="0.067" stop-color="#fff" stop-opacity="0.7551"/><stop offset="0.133" stop-color="#fff" stop-opacity="0.7311"/><stop offset="0.200" stop-color="#fff" stop-opacity="0.6901"/><stop offset="0.267" stop-color="#fff" stop-opacity="0.6315"/><stop offset="0.333" stop-color="#fff" stop-opacity="0.5562"/><stop offset="0.400" stop-color="#fff" stop-opacity="0.4681"/><stop offset="0.467" stop-color="#fff" stop-opacity="0.3739"/><stop offset="0.533" stop-color="#fff" stop-opacity="0.2818"/><stop offset="0.600" stop-color="#fff" stop-opacity="0.1997"/><stop offset="0.667" stop-color="#fff" stop-opacity="0.1326"/><stop offset="0.733" stop-color="#fff" stop-opacity="0.0819"/><stop offset="0.800" stop-color="#fff" stop-opacity="0.0464"/><stop offset="0.867" stop-color="#fff" stop-opacity="0.0230"/><stop offset="0.933" stop-color="#fff" stop-opacity="0.0086"/><stop offset="1.000" stop-color="#fff" stop-opacity="0.0000"/></radialGradient>
<radialGradient id="ag1"><stop offset="0.000" stop-color="#fff" stop-opacity="0.0469"/><stop offset="0.067" stop-color="#fff" stop-opacity="0.0458"/><stop offset="0.133" stop-color="#fff" stop-opacity="0.0428"/><stop offset="0.200" stop-color="#fff" stop-opacity="0.0383"/><stop offset="0.267" stop-color="#fff" stop-opacity="0.0327"/><stop offset="0.333" stop-color="#fff" stop-opacity="0.0267"/><stop offset="0.400" stop-color="#fff" stop-opacity="0.0208"/><stop offset="0.467" stop-color="#fff" stop-opacity="0.0155"/><stop offset="0.533" stop-color="#fff" stop-opacity="0.0110"/><stop offset="0.600" stop-color="#fff" stop-opacity="0.0074"/><stop offset="0.667" stop-color="#fff" stop-opacity="0.0047"/><stop offset="0.733" stop-color="#fff" stop-opacity="0.0028"/><stop offset="0.800" stop-color="#fff" stop-opacity="0.0016"/><stop offset="0.867" stop-color="#fff" stop-opacity="0.0008"/><stop offset="0.933" stop-color="#fff" stop-opacity="0.0003"/><stop offset="1.000" stop-color="#fff" stop-opacity="0.0000"/></radialGradient>
<radialGradient id="ag2"><stop offset="0.000" stop-color="#fff" stop-opacity="0.2967"/><stop offset="0.067" stop-color="#fff" stop-opacity="0.2910"/><stop offset="0.133" stop-color="#fff" stop-opacity="0.2746"/><stop offset="0.200" stop-color="#fff" stop-opacity="0.2490"/><stop offset="0.267" stop-color="#fff" stop-opacity="0.2165"/><stop offset="0.333" stop-color="#fff" stop-opacity="0.1801"/><stop offset="0.400" stop-color="#fff" stop-opacity="0.1430"/><stop offset="0.467" stop-color="#fff" stop-opacity="0.1081"/><stop offset="0.533" stop-color="#fff" stop-opacity="0.0777"/><stop offset="0.600" stop-color="#fff" stop-opacity="0.0530"/><stop offset="0.667" stop-color="#fff" stop-opacity="0.0342"/><stop offset="0.733" stop-color="#fff" stop-opacity="0.0207"/><stop offset="0.800" stop-color="#fff" stop-opacity="0.0115"/><stop offset="0.867" stop-color="#fff" stop-opacity="0.0057"/><stop offset="0.933" stop-color="#fff" stop-opacity="0.0021"/><stop offset="1.000" stop-color="#fff" stop-opacity="0.0000"/></radialGradient>
<radialGradient id="ag3"><stop offset="0.000" stop-color="#fff" stop-opacity="0.5717"/><stop offset="0.067" stop-color="#fff" stop-opacity="0.5633"/><stop offset="0.133" stop-color="#fff" stop-opacity="0.5386"/><stop offset="0.200" stop-color="#fff" stop-opacity="0.4984"/><stop offset="0.267" stop-color="#fff" stop-opacity="0.4445"/><stop offset="0.333" stop-color="#fff" stop-opacity="0.3802"/><stop offset="0.400" stop-color="#fff" stop-opacity="0.3105"/><stop offset="0.467" stop-color="#fff" stop-opacity="0.2410"/><stop offset="0.533" stop-color="#fff" stop-opacity="0.1771"/><stop offset="0.600" stop-color="#fff" stop-opacity="0.1230"/><stop offset="0.667" stop-color="#fff" stop-opacity="0.0803"/><stop offset="0.733" stop-color="#fff" stop-opacity="0.0491"/><stop offset="0.800" stop-color="#fff" stop-opacity="0.0276"/><stop offset="0.867" stop-color="#fff" stop-opacity="0.0136"/><stop offset="0.933" stop-color="#fff" stop-opacity="0.0051"/><stop offset="1.000" stop-color="#fff" stop-opacity="0.0000"/></radialGradient>
<radialGradient id="ag4"><stop offset="0.000" stop-color="#fff" stop-opacity="0.1201"/><stop offset="0.067" stop-color="#fff" stop-opacity="0.1176"/><stop offset="0.133" stop-color="#fff" stop-opacity="0.1102"/><stop offset="0.200" stop-color="#fff" stop-opacity="0.0989"/><stop offset="0.267" stop-color="#fff" stop-opacity="0.0849"/><stop offset="0.333" stop-color="#fff" stop-opacity="0.0697"/><stop offset="0.400" stop-color="#fff" stop-opacity="0.0546"/><stop offset="0.467" stop-color="#fff" stop-opacity="0.0408"/><stop offset="0.533" stop-color="#fff" stop-opacity="0.0290"/><stop offset="0.600" stop-color="#fff" stop-opacity="0.0196"/><stop offset="0.667" stop-color="#fff" stop-opacity="0.0126"/><stop offset="0.733" stop-color="#fff" stop-opacity="0.0076"/><stop offset="0.800" stop-color="#fff" stop-opacity="0.0042"/><stop offset="0.867" stop-color="#fff" stop-opacity="0.0021"/><stop offset="0.933" stop-color="#fff" stop-opacity="0.0008"/><stop offset="1.000" stop-color="#fff" stop-opacity="0.0000"/></radialGradient>
<radialGradient id="ag5"><stop offset="0.000" stop-color="#fff" stop-opacity="0.4468"/><stop offset="0.067" stop-color="#fff" stop-opacity="0.4392"/><stop offset="0.133" stop-color="#fff" stop-opacity="0.4173"/><stop offset="0.200" stop-color="#fff" stop-opacity="0.3822"/><stop offset="0.267" stop-color="#fff" stop-opacity="0.3366"/><stop offset="0.333" stop-color="#fff" stop-opacity="0.2839"/><stop offset="0.400" stop-color="#fff" stop-opacity="0.2286"/><stop offset="0.467" stop-color="#fff" stop-opacity="0.1751"/><stop offset="0.533" stop-color="#fff" stop-opacity="0.1272"/><stop offset="0.600" stop-color="#fff" stop-opacity="0.0875"/><stop offset="0.667" stop-color="#fff" stop-opacity="0.0568"/><stop offset="0.733" stop-color="#fff" stop-opacity="0.0345"/><stop offset="0.800" stop-color="#fff" stop-opacity="0.0193"/><stop offset="0.867" stop-color="#fff" stop-opacity="0.0095"/><stop offset="0.933" stop-color="#fff" stop-opacity="0.0035"/><stop offset="1.000" stop-color="#fff" stop-opacity="0.0000"/></radialGradient>
<radialGradient id="ag6"><stop offset="0.000" stop-color="#fff" stop-opacity="0.1341"/><stop offset="0.067" stop-color="#fff" stop-opacity="0.1313"/><stop offset="0.133" stop-color="#fff" stop-opacity="0.1231"/><stop offset="0.200" stop-color="#fff" stop-opacity="0.1106"/><stop offset="0.267" stop-color="#fff" stop-opacity="0.0950"/><stop offset="0.333" stop-color="#fff" stop-opacity="0.0780"/><stop offset="0.400" stop-color="#fff" stop-opacity="0.0612"/><stop offset="0.467" stop-color="#fff" stop-opacity="0.0457"/><stop offset="0.533" stop-color="#fff" stop-opacity="0.0326"/><stop offset="0.600" stop-color="#fff" stop-opacity="0.0220"/><stop offset="0.667" stop-color="#fff" stop-opacity="0.0141"/><stop offset="0.733" stop-color="#fff" stop-opacity="0.0085"/><stop offset="0.800" stop-color="#fff" stop-opacity="0.0047"/><stop offset="0.867" stop-color="#fff" stop-opacity="0.0023"/><stop offset="0.933" stop-color="#fff" stop-opacity="0.0009"/><stop offset="1.000" stop-color="#fff" stop-opacity="0.0000"/></radialGradient>
<radialGradient id="ag7"><stop offset="0.000" stop-color="#fff" stop-opacity="0.1747"/><stop offset="0.067" stop-color="#fff" stop-opacity="0.1711"/><stop offset="0.133" stop-color="#fff" stop-opacity="0.1607"/><stop offset="0.200" stop-color="#fff" stop-opacity="0.1446"/><stop offset="0.267" stop-color="#fff" stop-opacity="0.1246"/><stop offset="0.333" stop-color="#fff" stop-opacity="0.1027"/><stop offset="0.400" stop-color="#fff" stop-opacity="0.0807"/><stop offset="0.467" stop-color="#fff" stop-opacity="0.0605"/><stop offset="0.533" stop-color="#fff" stop-opacity="0.0432"/><stop offset="0.600" stop-color="#fff" stop-opacity="0.0293"/><stop offset="0.667" stop-color="#fff" stop-opacity="0.0188"/><stop offset="0.733" stop-color="#fff" stop-opacity="0.0113"/><stop offset="0.800" stop-color="#fff" stop-opacity="0.0063"/><stop offset="0.867" stop-color="#fff" stop-opacity="0.0031"/><stop offset="0.933" stop-color="#fff" stop-opacity="0.0011"/><stop offset="1.000" stop-color="#fff" stop-opacity="0.0000"/></radialGradient>
</defs>
<rect width="549.8" height="415.6" fill="#4c4c4c"/>
<g filter="url(#af)">
<ellipse cx="0" cy="0" rx="102.4" ry="102.4" fill="url(#ag0)" transform="translate(289.7,193.4) rotate(0)"/>
<ellipse cx="0" cy="0" rx="102.4" ry="102.4" fill="url(#ag1)" transform="translate(260.9,221.0) rotate(0)"/>
<ellipse cx="0" cy="0" rx="102.4" ry="102.4" fill="url(#ag2)" transform="translate(330.7,156.7) rotate(0)"/>
<ellipse cx="0" cy="0" rx="96.0" ry="115.2" fill="url(#ag3)" transform="translate(350.8,134.1) rotate(-40.8)"/>
<ellipse cx="0" cy="0" rx="96.0" ry="96.0" fill="url(#ag4)" transform="translate(386.0,107.6) rotate(0)"/>
<ellipse cx="0" cy="0" rx="99.2" ry="124.8" fill="url(#ag5)" transform="translate(414.9,86.0) rotate(-40.8)"/>
<ellipse cx="0" cy="0" rx="96.0" ry="96.0" fill="url(#ag6)" transform="translate(406.9,22.0) rotate(0)"/>
<ellipse cx="0" cy="0" rx="96.0" ry="96.0" fill="url(#ag7)" transform="translate(480.9,74.0) rotate(0)"/>
</g>
<g fill="none" stroke="#050510" stroke-opacity="0.37" stroke-width="1.45"><circle cx="275.1" cy="208.6" r="4.5"/><circle cx="275.1" cy="208.6" r="13.70"/><circle cx="275.1" cy="208.6" r="27.40"/><circle cx="275.1" cy="208.6" r="41.10"/><circle cx="275.1" cy="208.6" r="54.80"/><circle cx="275.1" cy="208.6" r="68.50"/><circle cx="275.1" cy="208.6" r="82.20"/><circle cx="275.1" cy="208.6" r="95.90"/><circle cx="275.1" cy="208.6" r="109.60"/><circle cx="275.1" cy="208.6" r="123.30"/><circle cx="275.1" cy="208.6" r="137.00"/><circle cx="275.1" cy="208.6" r="150.70"/><circle cx="275.1" cy="208.6" r="164.40"/><circle cx="275.1" cy="208.6" r="178.10"/><circle cx="275.1" cy="208.6" r="191.80"/><circle cx="275.1" cy="208.6" r="205.50"/></g>
<g font-size="6.5" fill="#200800" fill-opacity="0.4" text-anchor="middle">
<text x="275.3" y="211.3">1</text>
<text x="282.8" y="205.4">2</text>
<text x="289.9" y="200.0">3</text>
<text x="302.8" y="193.4">4</text>
<text x="313.4" y="182.9">5</text>
<text x="322.7" y="174.9">6</text>
<text x="334.5" y="164.8">7</text>
<text x="344.6" y="155.4">8</text>
<text x="355.1" y="146.7">9</text>
<text x="364.5" y="137.1">10</text>
<text x="374.4" y="125.6">11</text>
<text x="383.8" y="117.1">12</text>
<text x="394.3" y="108.4">13</text>
<text x="407.3" y="96.7">14</text>
<text x="417.1" y="88.0">15</text>
<text x="427.7" y="78.6">16</text>
</g>
</svg>
<svg width="557.9" height="424.5" viewBox="0 0 557.9 424.5" style="position:absolute;left:620.0px;top:698.8px" font-family="Liberation Sans, sans-serif">
<defs>
<filter id="bf" x="0" y="0" width="100%" height="100%" filterUnits="userSpaceOnUse" color-interpolation-filters="sRGB"><feColorMatrix type="matrix" values="0 0 0 1 0 0 0 0 1 0 0 0 0 1 0 0 0 0 1 0"/><feComponentTransfer><feFuncR type="table" tableValues="0.282 0.282 0.282 0.282 0.282 0.282 0.282 0.282 0.282 0.282 0.282 0.282 0.282 0.282 0.282 0.285 0.288 0.292 0.3 0.308 0.317 0.328 0.34 0.353 0.367 0.382 0.396 0.407 0.418 0.43 0.47 0.518 0.567 0.618 0.67 0.734 0.806 0.88 0.957 0.983 0.986 0.989 0.991 0.988 0.985 0.982 0.98 0.98 0.98 0.98 0.98 0.98 0.98 0.98 0.98 0.98 0.98 0.98 0.98 0.98 0.98 0.98 0.98 0.98 0.98"/><feFuncG type="table" tableValues="0.314 0.314 0.314 0.314 0.314 0.314 0.314 0.314 0.314 0.314 0.314 0.314 0.316 0.319 0.321 0.346 0.372 0.407 0.473 0.54 0.609 0.679 0.751 0.81 0.859 0.908 0.944 0.953 0.962 0.971 0.974 0.975 0.977 0.978 0.98 0.977 0.972 0.967 0.962 0.93 0.886 0.839 0.791 0.739 0.685 0.627 0.568 0.505 0.438 0.383 0.327 0.3 0.298 0.298 0.298 0.298 0.298 0.298 0.298 0.298 0.298 0.298 0.298 0.298 0.298"/><feFuncB type="table" tableValues="0.98 0.98 0.98 0.98 0.98 0.98 0.98 0.98 0.98 0.98 0.98 0.98 0.98 0.98 0.98 0.974 0.966 0.952 0.913 0.872 0.816 0.725 0.631 0.549 0.476 0.402 0.349 0.338 0.327 0.316 0.314 0.314 0.314 0.314 0.314 0.317 0.322 0.327 0.332 0.328 0.32 0.312 0.306 0.308 0.311 0.313 0.31 0.305 0.299 0.293 0.288 0.283 0.282 0.282 0.282 0.282 0.282 0.282 0.282 0.282 0.282 0.282 0.282 0.282 0.282"/><feFuncA type="table" tableValues="0 0 0 0 0.043 0.127 0.215 0.324 0.435 0.547 0.662 0.779 0.847 0.906 0.967 0.98 0.991 1 1 1 1 1 1 1 1 1 1 1 1 1 1 1 1 1 1 1 1 1 1 1 1 1 1 1 1 1 1 1 1 1 1 1 1 1 1 1 1 1 1 1 1 1 1 1 1"/></feComponentTransfer></filter>
<radialGradient id="bg0"><stop offset="0.000" stop-color="#fff" stop-opacity="0.4556"/><stop offset="0.067" stop-color="#fff" stop-opacity="0.4479"/><stop offset="0.133" stop-color="#fff" stop-opacity="0.4257"/><stop offset="0.200" stop-color="#fff" stop-opacity="0.3902"/><stop offset="0.267" stop-color="#fff" stop-opacity="0.3439"/><stop offset="0.333" stop-color="#fff" stop-opacity="0.2904"/><stop offset="0.400" stop-color="#fff" stop-opacity="0.2340"/><stop offset="0.467" stop-color="#fff" stop-opacity="0.1794"/><stop offset="0.533" stop-color="#fff" stop-opacity="0.1304"/><stop offset="0.600" stop-color="#fff" stop-opacity="0.0898"/><stop offset="0.667" stop-color="#fff" stop-opacity="0.0583"/><stop offset="0.733" stop-color="#fff" stop-opacity="0.0354"/><stop offset="0.800" stop-color="#fff" stop-opacity="0.0198"/><stop offset="0.867" stop-color="#fff" stop-opacity="0.0098"/><stop offset="0.933" stop-color="#fff" stop-opacity="0.0036"/><stop offset="1.000" stop-color="#fff" stop-opacity="0.0000"/></radialGradient>
<radialGradient id="bg1"><stop offset="0.000" stop-color="#fff" stop-opacity="0.2259"/><stop offset="0.067" stop-color="#fff" stop-opacity="0.2213"/><stop offset="0.133" stop-color="#fff" stop-opacity="0.2083"/><stop offset="0.200" stop-color="#fff" stop-opacity="0.1880"/><stop offset="0.267" stop-color="#fff" stop-opacity="0.1626"/><stop offset="0.333" stop-color="#fff" stop-opacity="0.1345"/><stop offset="0.400" stop-color="#fff" stop-opacity="0.1062"/><stop offset="0.467" stop-color="#fff" stop-opacity="0.0799"/><stop offset="0.533" stop-color="#fff" stop-opacity="0.0572"/><stop offset="0.600" stop-color="#fff" stop-opacity="0.0388"/><stop offset="0.667" stop-color="#fff" stop-opacity="0.0250"/><stop offset="0.733" stop-color="#fff" stop-opacity="0.0151"/><stop offset="0.800" stop-color="#fff" stop-opacity="0.0084"/><stop offset="0.867" stop-color="#fff" stop-opacity="0.0041"/><stop offset="0.933" stop-color="#fff" stop-opacity="0.0015"/><stop offset="1.000" stop-color="#fff" stop-opacity="0.0000"/></radialGradient>
<radialGradient id="bg2"><stop offset="0.000" stop-color="#fff" stop-opacity="0.4811"/><stop offset="0.067" stop-color="#fff" stop-opacity="0.4732"/><stop offset="0.133" stop-color="#fff" stop-opacity="0.4503"/><stop offset="0.200" stop-color="#fff" stop-opacity="0.4136"/><stop offset="0.267" stop-color="#fff" stop-opacity="0.3654"/><stop offset="0.333" stop-color="#fff" stop-opacity="0.3093"/><stop offset="0.400" stop-color="#fff" stop-opacity="0.2499"/><stop offset="0.467" stop-color="#fff" stop-opacity="0.1921"/><stop offset="0.533" stop-color="#fff" stop-opacity="0.1400"/><stop offset="0.600" stop-color="#fff" stop-opacity="0.0965"/><stop offset="0.667" stop-color="#fff" stop-opacity="0.0627"/><stop offset="0.733" stop-color="#fff" stop-opacity="0.0382"/><stop offset="0.800" stop-color="#fff" stop-opacity="0.0214"/><stop offset="0.867" stop-color="#fff" stop-opacity="0.0106"/><stop offset="0.933" stop-color="#fff" stop-opacity="0.0039"/><stop offset="1.000" stop-color="#fff" stop-opacity="0.0000"/></radialGradient>
<radialGradient id="bg3"><stop offset="0.000" stop-color="#fff" stop-opacity="0.4811"/><stop offset="0.067" stop-color="#fff" stop-opacity="0.4732"/><stop offset="0.133" stop-color="#fff" stop-opacity="0.4503"/><stop offset="0.200" stop-color="#fff" stop-opacity="0.4136"/><stop offset="0.267" stop-color="#fff" stop-opacity="0.3654"/><stop offset="0.333" stop-color="#fff" stop-opacity="0.3093"/><stop offset="0.400" stop-color="#fff" stop-opacity="0.2499"/><stop offset="0.467" stop-color="#fff" stop-opacity="0.1921"/><stop offset="0.533" stop-color="#fff" stop-opacity="0.1400"/><stop offset="0.600" stop-color="#fff" stop-opacity="0.0965"/><stop offset="0.667" stop-color="#fff" stop-opacity="0.0627"/><stop offset="0.733" stop-color="#fff" stop-opacity="0.0382"/><stop offset="0.800" stop-color="#fff" stop-opacity="0.0214"/><stop offset="0.867" stop-color="#fff" stop-opacity="0.0106"/><stop offset="0.933" stop-color="#fff" stop-opacity="0.0039"/><stop offset="1.000" stop-color="#fff" stop-opacity="0.0000"/></radialGradient>
<radialGradient id="bg4"><stop offset="0.000" stop-color="#fff" stop-opacity="0.1614"/><stop offset="0.067" stop-color="#fff" stop-opacity="0.1580"/><stop offset="0.133" stop-color="#fff" stop-opacity="0.1483"/><stop offset="0.200" stop-color="#fff" stop-opacity="0.1334"/><stop offset="0.267" stop-color="#fff" stop-opacity="0.1149"/><stop offset="0.333" stop-color="#fff" stop-opacity="0.0945"/><stop offset="0.400" stop-color="#fff" stop-opacity="0.0743"/><stop offset="0.467" stop-color="#fff" stop-opacity="0.0556"/><stop offset="0.533" stop-color="#fff" stop-opacity="0.0397"/><stop offset="0.600" stop-color="#fff" stop-opacity="0.0269"/><stop offset="0.667" stop-color="#fff" stop-opacity="0.0172"/><stop offset="0.733" stop-color="#fff" stop-opacity="0.0104"/><stop offset="0.800" stop-color="#fff" stop-opacity="0.0058"/><stop offset="0.867" stop-color="#fff" stop-opacity="0.0028"/><stop offset="0.933" stop-color="#fff" stop-opacity="0.0011"/><stop offset="1.000" stop-color="#fff" stop-opacity="0.0000"/></radialGradient>
<radialGradient id="bg5"><stop offset="0.000" stop-color="#fff" stop-opacity="0.2381"/><stop offset="0.067" stop-color="#fff" stop-opacity="0.2334"/><stop offset="0.133" stop-color="#fff" stop-opacity="0.2197"/><stop offset="0.200" stop-color="#fff" stop-opacity="0.1985"/><stop offset="0.267" stop-color="#fff" stop-opacity="0.1718"/><stop offset="0.333" stop-color="#fff" stop-opacity="0.1423"/><stop offset="0.400" stop-color="#fff" stop-opacity="0.1124"/><stop offset="0.467" stop-color="#fff" stop-opacity="0.0846"/><stop offset="0.533" stop-color="#fff" stop-opacity="0.0606"/><stop offset="0.600" stop-color="#fff" stop-opacity="0.0412"/><stop offset="0.667" stop-color="#fff" stop-opacity="0.0265"/><stop offset="0.733" stop-color="#fff" stop-opacity="0.0160"/><stop offset="0.800" stop-color="#fff" stop-opacity="0.0089"/><stop offset="0.867" stop-color="#fff" stop-opacity="0.0044"/><stop offset="0.933" stop-color="#fff" stop-opacity="0.0016"/><stop offset="1.000" stop-color="#fff" stop-opacity="0.0000"/></radialGradient>
<radialGradient id="bg6"><stop offset="0.000" stop-color="#fff" stop-opacity="0.5983"/><stop offset="0.067" stop-color="#fff" stop-opacity="0.5898"/><stop offset="0.133" stop-color="#fff" stop-opacity="0.5648"/><stop offset="0.200" stop-color="#fff" stop-opacity="0.5238"/><stop offset="0.267" stop-color="#fff" stop-opacity="0.4686"/><stop offset="0.333" stop-color="#fff" stop-opacity="0.4022"/><stop offset="0.400" stop-color="#fff" stop-opacity="0.3296"/><stop offset="0.467" stop-color="#fff" stop-opacity="0.2566"/><stop offset="0.533" stop-color="#fff" stop-opacity="0.1891"/><stop offset="0.600" stop-color="#fff" stop-opacity="0.1316"/><stop offset="0.667" stop-color="#fff" stop-opacity="0.0861"/><stop offset="0.733" stop-color="#fff" stop-opacity="0.0527"/><stop offset="0.800" stop-color="#fff" stop-opacity="0.0296"/><stop offset="0.867" stop-color="#fff" stop-opacity="0.0147"/><stop offset="0.933" stop-color="#fff" stop-opacity="0.0054"/><stop offset="1.000" stop-color="#fff" stop-opacity="0.0000"/></radialGradient>
<radialGradient id="bg7"><stop offset="0.000" stop-color="#fff" stop-opacity="0.4893"/><stop offset="0.067" stop-color="#fff" stop-opacity="0.4814"/><stop offset="0.133" stop-color="#fff" stop-opacity="0.4583"/><stop offset="0.200" stop-color="#fff" stop-opacity="0.4212"/><stop offset="0.267" stop-color="#fff" stop-opacity="0.3724"/><stop offset="0.333" stop-color="#fff" stop-opacity="0.3155"/><stop offset="0.400" stop-color="#fff" stop-opacity="0.2552"/><stop offset="0.467" stop-color="#fff" stop-opacity="0.1963"/><stop offset="0.533" stop-color="#fff" stop-opacity="0.1431"/><stop offset="0.600" stop-color="#fff" stop-opacity="0.0988"/><stop offset="0.667" stop-color="#fff" stop-opacity="0.0642"/><stop offset="0.733" stop-color="#fff" stop-opacity="0.0391"/><stop offset="0.800" stop-color="#fff" stop-opacity="0.0219"/><stop offset="0.867" stop-color="#fff" stop-opacity="0.0108"/><stop offset="0.933" stop-color="#fff" stop-opacity="0.0040"/><stop offset="1.000" stop-color="#fff" stop-opacity="0.0000"/></radialGradient>
<radialGradient id="bg8"><stop offset="0.000" stop-color="#fff" stop-opacity="0.0769"/><stop offset="0.067" stop-color="#fff" stop-opacity="0.0752"/><stop offset="0.133" stop-color="#fff" stop-opacity="0.0704"/><stop offset="0.200" stop-color="#fff" stop-opacity="0.0630"/><stop offset="0.267" stop-color="#fff" stop-opacity="0.0539"/><stop offset="0.333" stop-color="#fff" stop-opacity="0.0441"/><stop offset="0.400" stop-color="#fff" stop-opacity="0.0345"/><stop offset="0.467" stop-color="#fff" stop-opacity="0.0257"/><stop offset="0.533" stop-color="#fff" stop-opacity="0.0182"/><stop offset="0.600" stop-color="#fff" stop-opacity="0.0123"/><stop offset="0.667" stop-color="#fff" stop-opacity="0.0079"/><stop offset="0.733" stop-color="#fff" stop-opacity="0.0047"/><stop offset="0.800" stop-color="#fff" stop-opacity="0.0026"/><stop offset="0.867" stop-color="#fff" stop-opacity="0.0013"/><stop offset="0.933" stop-color="#fff" stop-opacity="0.0005"/><stop offset="1.000" stop-color="#fff" stop-opacity="0.0000"/></radialGradient>
<radialGradient id="bg9"><stop offset="0.000" stop-color="#fff" stop-opacity="0.1201"/><stop offset="0.067" stop-color="#fff" stop-opacity="0.1176"/><stop offset="0.133" stop-color="#fff" stop-opacity="0.1102"/><stop offset="0.200" stop-color="#fff" stop-opacity="0.0989"/><stop offset="0.267" stop-color="#fff" stop-opacity="0.0849"/><stop offset="0.333" stop-color="#fff" stop-opacity="0.0697"/><stop offset="0.400" stop-color="#fff" stop-opacity="0.0546"/><stop offset="0.467" stop-color="#fff" stop-opacity="0.0408"/><stop offset="0.533" stop-color="#fff" stop-opacity="0.0290"/><stop offset="0.600" stop-color="#fff" stop-opacity="0.0196"/><stop offset="0.667" stop-color="#fff" stop-opacity="0.0126"/><stop offset="0.733" stop-color="#fff" stop-opacity="0.0076"/><stop offset="0.800" stop-color="#fff" stop-opacity="0.0042"/><stop offset="0.867" stop-color="#fff" stop-opacity="0.0021"/><stop offset="0.933" stop-color="#fff" stop-opacity="0.0008"/><stop offset="1.000" stop-color="#fff" stop-opacity="0.0000"/></radialGradient>
</defs>
<rect width="557.9" height="424.5" fill="#4c4c4c"/>
<g filter="url(#bf)">
<ellipse cx="0" cy="0" rx="105.6" ry="105.6" fill="url(#bg0)" transform="translate(279.5,213.5) rotate(0)"/>
<ellipse cx="0" cy="0" rx="89.6" ry="89.6" fill="url(#bg1)" transform="translate(325.4,187.1) rotate(0)"/>
<ellipse cx="0" cy="0" rx="96.0" ry="89.6" fill="url(#bg2)" transform="translate(341.9,135.9) rotate(-40.8)"/>
<ellipse cx="0" cy="0" rx="105.6" ry="89.6" fill="url(#bg3)" transform="translate(365.9,175.9) rotate(-40.8)"/>
<ellipse cx="0" cy="0" rx="108.8" ry="96.0" fill="url(#bg4)" transform="translate(389.2,187.6) rotate(-40.8)"/>
<ellipse cx="0" cy="0" rx="89.6" ry="128.0" fill="url(#bg5)" transform="translate(382.7,121.9) rotate(-40.8)"/>
<ellipse cx="0" cy="0" rx="105.6" ry="112.0" fill="url(#bg6)" transform="translate(404.0,90.2) rotate(-40.8)"/>
<ellipse cx="0" cy="0" rx="153.6" ry="118.4" fill="url(#bg7)" transform="translate(432.0,88.2) rotate(0)"/>
<ellipse cx="0" cy="0" rx="104.0" ry="104.0" fill="url(#bg8)" transform="translate(498.0,91.2) rotate(0)"/>
<ellipse cx="0" cy="0" rx="104.0" ry="104.0" fill="url(#bg9)" transform="translate(468.0,141.2) rotate(0)"/>
</g>
<g fill="none" stroke="#050510" stroke-opacity="0.37" stroke-width="1.45"><circle cx="279.5" cy="213.5" r="4.6"/><circle cx="279.5" cy="213.5" r="13.90"/><circle cx="279.5" cy="213.5" r="27.79"/><circle cx="279.5" cy="213.5" r="41.69"/><circle cx="279.5" cy="213.5" r="55.58"/><circle cx="279.5" cy="213.5" r="69.48"/><circle cx="279.5" cy="213.5" r="83.38"/><circle cx="279.5" cy="213.5" r="97.27"/><circle cx="279.5" cy="213.5" r="111.17"/><circle cx="279.5" cy="213.5" r="125.06"/><circle cx="279.5" cy="213.5" r="138.96"/><circle cx="279.5" cy="213.5" r="152.86"/><circle cx="279.5" cy="213.5" r="166.75"/><circle cx="279.5" cy="213.5" r="180.65"/><circle cx="279.5" cy="213.5" r="194.54"/><circle cx="279.5" cy="213.5" r="208.44"/></g>
<g font-size="6.5" fill="#200800" fill-opacity="0.4" text-anchor="middle">
<text x="279.7" y="216.2">1</text>
<text x="287.3" y="210.2">2</text>
<text x="294.5" y="204.7">3</text>
<text x="307.6" y="198.0">4</text>
<text x="318.3" y="187.4">5</text>
<text x="327.8" y="179.3">6</text>
<text x="339.7" y="169.0">7</text>
<text x="350.0" y="159.5">8</text>
<text x="360.6" y="150.7">9</text>
<text x="370.2" y="140.9">10</text>
<text x="380.2" y="129.3">11</text>
<text x="389.8" y="120.7">12</text>
<text x="400.4" y="111.8">13</text>
<text x="413.6" y="100.0">14</text>
<text x="423.5" y="91.1">15</text>
<text x="434.3" y="81.6">16</text>
</g>
</svg>
<svg width="550.7" height="7.4" style="position:absolute;left:40.2px;top:1132.3px"><defs><linearGradient id="cb1"><stop offset="0" stop-color="#000000"/><stop offset="0.07" stop-color="#04062c"/><stop offset="0.14" stop-color="#0b2594"/><stop offset="0.2" stop-color="#1238dd"/><stop offset="0.26" stop-color="#1b55b8"/><stop offset="0.31" stop-color="#2f8a6e"/><stop offset="0.36" stop-color="#48c84a"/><stop offset="0.41" stop-color="#55e543"/><stop offset="0.48" stop-color="#84ea42"/><stop offset="0.54" stop-color="#c6ee45"/><stop offset="0.595" stop-color="#f6f04a"/><stop offset="0.66" stop-color="#f4cd45"/><stop offset="0.75" stop-color="#f0a23a"/><stop offset="0.85" stop-color="#ea6d2e"/><stop offset="0.93" stop-color="#e4432a"/><stop offset="1" stop-color="#dc2828"/></linearGradient></defs><rect width="550.7" height="7.4" fill="url(#cb1)"/></svg>
<svg width="557.9" height="8.7" style="position:absolute;left:620.0px;top:1132.0px"><defs><linearGradient id="cb2"><stop offset="0" stop-color="#000000"/><stop offset="0.07" stop-color="#04062c"/><stop offset="0.14" stop-color="#0b2594"/><stop offset="0.2" stop-color="#1238dd"/><stop offset="0.26" stop-color="#1b55b8"/><stop offset="0.31" stop-color="#2f8a6e"/><stop offset="0.36" stop-color="#48c84a"/><stop offset="0.41" stop-color="#55e543"/><stop offset="0.48" stop-color="#84ea42"/><stop offset="0.54" stop-color="#c6ee45"/><stop offset="0.595" stop-color="#f6f04a"/><stop offset="0.66" stop-color="#f4cd45"/><stop offset="0.75" stop-color="#f0a23a"/><stop offset="0.85" stop-color="#ea6d2e"/><stop offset="0.93" stop-color="#e4432a"/><stop offset="1" stop-color="#dc2828"/></linearGradient></defs><rect width="557.9" height="8.7" fill="url(#cb2)"/></svg>
<div class="n" style="left:39.5px;top:1143.5px">0</div>
<div class="n" style="left:573.5px;top:1143.5px">12</div>
<div class="n" style="left:619.5px;top:1143.5px">0</div>
<div class="n" style="left:1161.5px;top:1143.5px">20</div>
<div class="cl" id="cap-b0" style="top:1181.1px;letter-spacing:0.753px"><b>Fig. 5</b> Heatmaps indicating highest moral allocation by ideology, Study 3a. Source data are provided as a Source Data file. <i>Note.</i> The highest value on the</div>
<div class="cl" id="cap-b1" style="top:1205.8px;letter-spacing:0.939px">heatmap scale is 20 units for liberals, and 12 units for conservatives. Moral circle rings, from inner to outer, are described as follows: (1) all of your</div>
<div class="cl" id="cap-b2" style="top:1230.4px;letter-spacing:1.073px">immediate family, (2) all of your extended family, (3) all of your closest friends, (4) all of your friends (including distant ones), (5) all of your</div>
<div class="cl" id="cap-b3" style="top:1255.0px;letter-spacing:0.924px">acquaintances, (6) all people you have ever met, (7) all people in your country, (8) all people on your continent, (9) all people on all continents, (10) all</div>
<div class="cl" id="cap-b4" style="top:1279.7px;letter-spacing:0.853px">mammals, (11) all amphibians, reptiles, mammals, fish, and birds, (12) all animals on earth including paramecia and amoebae, (13) all animals in the</div>
<div class="cl" id="cap-b5" style="top:1304.3px;letter-spacing:0.901px">universe, including alien lifeforms, (14) all living things in the universe including plants and trees, (15) all natural things in the universe including inert</div>
<div class="cl" id="cap-b6" style="top:1329.0px;letter-spacing:0.853px">entities such as rocks, (16) all things in existence</div>
</body></html>
